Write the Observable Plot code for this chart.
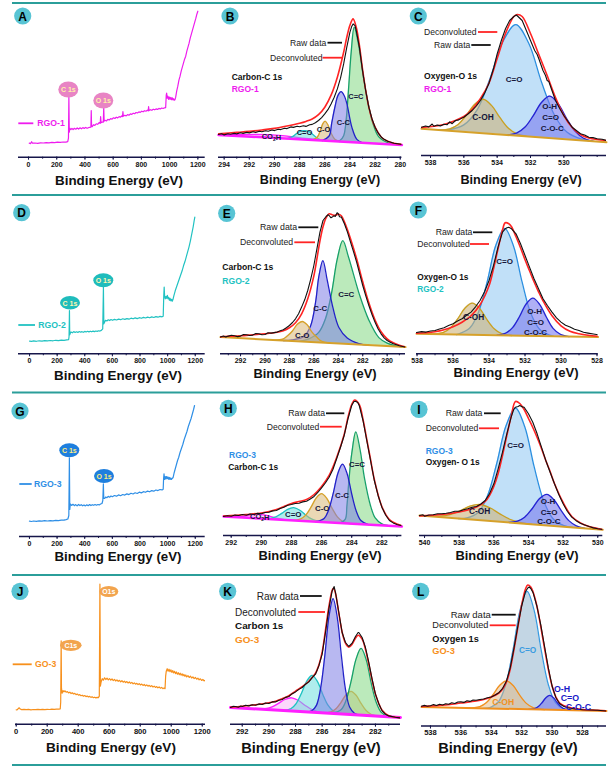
<!DOCTYPE html>
<html><head><meta charset="utf-8">
<script src="https://cdn.jsdelivr.net/npm/d3@7"></script>
<script src="https://cdn.jsdelivr.net/npm/@observablehq/plot@0.6"></script>
<style>
body{margin:0;background:#fff;}
#page{position:relative;width:614px;height:768px;overflow:hidden;background:#fff;font-family:Arial,"Liberation Sans",Helvetica,sans-serif;}
</style></head><body><div id="page"></div>
<script>
const FONT = "Arial, 'Liberation Sans', Helvetica, sans-serif";

// ---------- tick labels ----------
const SURVEY_TICKS = [0,200,400,600,800,1000,1200];
const SURVEY_MINOR = [0,100,200,300,400,500,600,700,800,900,1000,1100,1200];
const B_TICKS = [294,292,290,288,286,284,282,280];
const B_MINOR = [294,293,292,291,290,289,288,287,286,285,284,283,282,281,280];
const C_TICKS = [538,536,534,532,530];
const C_MINOR = [538,537,536,535,534,533,532,531,530,529,528];
const E_TICKS = [292,290,288,286,284,282,280];
const E_MINOR = [293,292,291,290,289,288,287,286,285,284,283,282,281,280,279];
const F_TICKS = [538,536,534,532,530,528];
const F_MINOR = [538,537,536,535,534,533,532,531,530,529,528];
const H_TICKS = [292,290,288,286,284,282];
const H_MINOR = [292,291,290,289,288,287,286,285,284,283,282,281];
const I_TICKS = [540,538,536,534,532,530];
const I_MINOR = [540,539,538,537,536,535,534,533,532,531,530];
const K_TICKS = [292,290,288,286,284,282];
const K_MINOR = [292,291,290,289,288,287,286,285,284,283,282,281];
const L_TICKS = [538,536,534,532,530,528];
const L_MINOR = [538,537,536,535,534,533,532,531,530,529,528,527];

// ---------- survey spectra [eV, intensity] ----------
const A_survey = [[5,14],[15,13.6],[22,15.5],[28,14],[45,14.2],[65,13.9],[85,14.4],[105,14.2],[125,14.6],[145,14.3],[165,14.8],[185,14.5],[205,15],[225,14.8],[245,15.2],[265,15.1],[278,15.6],[283,19],[286,60],[289,25],[292,29],[300,27.5],[308,28.8],[316,27.6],[325,28.9],[335,28],[345,29.2],[355,28.1],[365,29.4],[375,28.4],[385,29.6],[395,28.7],[405,29.8],[415,28.9],[425,29.5],[435,29.9],[442,30],[444.5,46.7],[447,31],[452,30.6],[460,32.5],[470,31.8],[480,33.4],[490,32.9],[500,34.6],[508,33.8],[511,40.5],[514,34.5],[522,35.2],[530,35],[533,50],[536,36],[542,36.9],[552,36.2],[562,37.8],[572,37.2],[582,38.6],[592,38],[602,39.4],[612,38.7],[622,40],[632,39.3],[642,40.6],[652,40],[660,41.2],[666,40.6],[669,45.5],[672,41],[682,41.9],[692,41.3],[702,42.6],[712,42],[722,43.3],[732,42.8],[742,44],[752,43.5],[762,44.7],[772,44.2],[782,45.3],[792,44.8],[802,46],[812,45.4],[822,46.5],[832,46],[842,47],[848,46.3],[851,50.5],[854,46.6],[864,47.5],[874,46.9],[884,48],[894,47.4],[904,48.3],[914,47.8],[924,48.8],[934,48.2],[944,49.2],[954,48.7],[964,49.4],[972,49.6],[976,62],[979,64],[983,59],[988,61],[993,57.8],[998,60.2],[1003,58],[1008,59.7],[1013,57.5],[1018,59.5],[1023,57.3],[1028,58.5],[1033,57],[1038,57.5],[1043,60],[1050,66],[1058,71],[1066,77],[1074,81],[1082,86],[1090,90],[1098,94],[1106,98],[1114,101],[1122,106],[1130,110],[1138,114],[1146,119],[1154,123],[1162,127],[1170,131],[1178,135],[1186,139],[1193,143],[1200,146]];
const D_survey = [[0,12.7],[15,12.4],[30,12.9],[50,12.5],[70,13],[90,12.7],[110,13.2],[130,12.9],[150,13.3],[170,13],[190,13.5],[210,13.2],[230,13.7],[250,13.5],[270,13.9],[283,14.2],[286,17],[289,43.3],[291,19],[295,20.5],[300,21.8],[310,21],[320,22.2],[330,21.3],[340,22],[350,21.4],[360,22.3],[370,21.6],[380,22.1],[390,21.5],[400,22.4],[410,21.8],[420,22.5],[430,21.9],[440,22.6],[450,22],[460,22.7],[470,22.2],[480,22.8],[490,22.4],[500,23],[510,22.7],[520,23.4],[530,25],[535,66.7],[538,30],[543,31.5],[550,33.5],[560,32.8],[570,34],[580,33.2],[590,34.2],[600,33.5],[615,34.4],[630,33.8],[645,34.7],[660,34.1],[675,35],[690,34.4],[705,35.2],[720,34.6],[735,35.6],[750,35],[765,35.9],[780,35.2],[795,36.1],[810,35.5],[825,36.4],[840,35.8],[855,36.7],[870,36],[885,36.9],[900,36.3],[915,37.2],[930,36.6],[945,37.4],[960,37],[968,37.5],[972,58],[975,66.7],[978,58],[983,55],[988,57.5],[993,55.5],[998,58.5],[1003,55],[1008,56.5],[1013,53.5],[1018,55.5],[1023,53],[1028,54.5],[1033,52.5],[1038,54],[1045,58],[1055,63],[1065,67],[1075,71],[1085,75],[1095,79],[1105,83],[1115,88],[1125,92],[1135,97],[1145,102],[1155,107],[1165,113],[1175,120],[1185,127],[1192,133],[1197,136.7]];
const G_survey = [[0,15.3],[15,15],[30,15.5],[50,15.2],[70,15.6],[90,15.3],[110,15.8],[130,15.5],[150,15.9],[170,15.7],[190,16.1],[210,15.9],[230,16.4],[250,16.3],[265,16.9],[278,17.5],[285,21],[289,78.7],[292,27],[296,32.5],[305,31],[315,32.2],[325,30.8],[335,31.9],[345,30.6],[355,32],[365,30.9],[375,31.8],[385,30.7],[395,31.6],[405,30.6],[415,31.7],[425,30.8],[435,31.9],[445,30.9],[455,31.8],[465,31.2],[475,32],[485,31.3],[495,32],[505,31.6],[515,32.5],[525,33],[531,36],[535,52.7],[538,38],[545,38.2],[552,39.5],[560,38.8],[570,40.1],[580,39.3],[590,40.5],[600,39.8],[615,41],[630,40.3],[645,41.6],[660,40.8],[675,42],[690,41.4],[705,42.6],[720,41.9],[735,43.2],[750,42.5],[765,43.7],[780,43],[795,44.3],[810,43.6],[825,44.8],[840,44.2],[855,45.4],[870,44.7],[885,45.9],[900,45.3],[915,46.5],[930,45.9],[945,47],[960,46.6],[968,47.3],[971,58],[974,62.7],[978,57],[983,60],[988,57.5],[993,60],[998,57.8],[1003,59.5],[1008,57.2],[1013,59],[1018,57],[1023,58.5],[1028,57],[1033,58],[1040,59],[1048,64],[1056,68],[1064,72],[1072,76],[1080,79],[1090,84],[1100,88],[1110,92],[1120,97],[1130,101],[1140,105],[1150,110],[1160,114],[1170,118],[1180,123],[1188,127],[1195,131]];
const J_survey = [[0,14.3],[8,14.6],[14,15.8],[20,16.3],[26,15.2],[35,14.6],[50,14.9],[65,14.5],[80,14.8],[95,14.4],[110,14.7],[125,14.5],[140,14.8],[155,14.6],[170,14.9],[185,14.6],[200,14.9],[215,14.7],[230,15],[245,14.8],[260,15.1],[275,15],[284,15.3],[287,22],[290,83.3],[292,36],[296,31],[302,33.6],[308,32.4],[315,33.4],[322,32],[330,32.6],[338,31.3],[346,32],[354,30.6],[362,31.4],[370,30.2],[378,30.8],[386,29.6],[394,30.2],[402,29],[410,29.6],[418,28.5],[426,29],[434,28],[442,28.7],[450,27.6],[458,28.2],[466,27.2],[474,27.8],[482,26.8],[490,27.4],[498,26.5],[506,27],[514,26.3],[522,26.8],[530,26.5],[536,28],[540,140],[543,38],[548,42.5],[555,45.5],[562,44],[570,46.3],[578,44.7],[586,46],[594,44.3],[602,45.6],[610,44],[618,45.2],[626,43.6],[634,44.7],[642,43.2],[650,44.3],[658,42.8],[666,43.9],[674,42.4],[682,43.5],[690,42],[698,43],[706,41.6],[714,42.6],[722,41.2],[730,42.2],[738,40.8],[746,41.8],[754,40.4],[762,41.3],[770,40],[778,40.9],[786,39.6],[794,40.5],[802,39.2],[810,40.1],[818,38.8],[826,39.7],[834,38.4],[842,39.3],[850,38],[858,38.9],[866,37.6],[874,38.5],[882,37.2],[890,38],[898,36.8],[906,37.6],[914,36.4],[922,37.2],[930,36],[938,36.8],[946,35.6],[954,36.2],[960,35.5],[964,48],[968,53],[974,55.5],[980,53],[986,55],[992,52.5],[998,54.3],[1004,51.8],[1010,53.6],[1016,51.2],[1022,52.8],[1028,50.6],[1034,52.2],[1040,50],[1046,51.5],[1052,49.5],[1058,51],[1064,49],[1070,50.4],[1076,48.4],[1082,49.8],[1088,47.9],[1094,49.2],[1100,47.3],[1108,48.6],[1116,46.7],[1124,48],[1132,46.2],[1140,47.3],[1148,45.6],[1156,46.7],[1164,45],[1172,46],[1180,44.4],[1188,45.4],[1196,43.8],[1204,44.7],[1212,43.3],[1220,44]];

// ---------- B : Carbon C1s RGO-1 ----------
const B_bg = [[294.45,22.3],[279.87,12.3]];
const B_CC = [[285.3,0],[284.8,1],[284.5,6],[284.3,22],[284.1,55],[283.9,90],[283.66,115],[283.32,98],[282.92,65],[282.52,38],[282.12,18],[281.72,7],[280.9,1],[280,0]];
const B_CCb = [[286.2,0],[285.65,5],[285.45,18],[285.18,35],[284.95,46],[284.7,50],[284.45,46],[284.24,38],[283.85,15],[283.45,3],[283.0,0]];
const B_CO = [[287.0,0],[286.6,3],[286.35,10],[286.15,17],[285.97,19.5],[285.75,16],[285.5,8],[285.2,2],[284.8,0]];
const B_CO2 = [[289.0,0],[288.6,2],[288.2,6],[287.9,8.5],[287.56,9],[287.2,8],[286.9,5],[286.5,1.5],[286.2,0]];
const B_COOH = [[294.4,0.5],[293,1.2],[291.5,2.5],[290.2,3],[289,2.5],[287.5,1.2],[286,0.3],[284.5,0]];
const B_raw = [[294.45,22.7],[294.2,23.5],[294,22.3],[293.7,23.4],[293.5,22.9],[293.2,23.8],[293,23.3],[292.7,24.4],[292.5,23.8],[292.2,24.8],[292,24.3],[291.7,25.4],[291.5,24.8],[291.2,26],[291,25.5],[290.7,26.5],[290.5,26],[290.2,27.2],[290,26.6],[289.7,27.9],[289.5,27.6],[289.2,29],[289,28.6],[288.7,30.3],[288.5,29.8],[288.2,31],[288,30.5],[287.7,31.4],[287.5,30.8],[287.2,32.5],[287,32.8],[286.75,34.5],[286.5,36.7],[286.25,39.5],[286,43.3],[285.75,47.5],[285.5,53.3],[285.25,60],[285,68.3],[284.75,79],[284.5,93.3],[284.25,110],[284,125],[283.85,131],[283.75,133.3],[283.6,131.5],[283.5,126.7],[283.25,110],[283,86.7],[282.75,66.7],[282.5,50],[282.25,38.5],[282,30],[281.75,24],[281.5,20],[281.25,17.6],[281,16],[280.5,14],[280.2,13.4],[279.87,12.7]];
const B_fit = [[294.45,23.5],[293,24.8],[292,25.8],[291,27.2],[290,28.8],[289,31.2],[288,34],[287.5,35.8],[287,38.2],[286.5,42.5],[286,50],[285.5,62],[285,80],[284.5,105],[284.25,120],[284,132],[283.75,138.3],[283.5,130],[283.25,112],[283,88],[282.75,67],[282.5,50],[282.25,38],[282,30],[281.5,20],[281,16],[280.5,14],[279.87,13]];

// ---------- C : Oxygen O1s RGO-1 ----------
const C_bg = [[538.54,26.7],[527.44,13.3]];
const C_CO = [[537.5,0],[536.9,1],[536.0,7],[535.2,23],[534.43,55],[533.66,93],[532.88,111],[532.1,93],[531.33,55],[530.55,23],[529.8,7],[528.9,1],[528.3,0]];
const C_COH = [[537.4,0],[536.84,2],[536.34,7],[535.84,17],[535.34,28.5],[534.84,34],[534.34,28.5],[533.84,17],[533.34,7],[532.84,2],[532.2,0]];
const C_OH = [[533.4,0],[532.84,2.5],[532.34,9],[531.84,21],[531.34,35],[530.84,42],[530.34,35],[529.84,21],[529.34,9],[528.84,2.5],[528.2,0]];
const C_raw = [[538.54,28.3],[538.3,29.5],[538.1,28.6],[537.9,31.5],[537.8,29.2],[537.6,30.4],[537.4,29.6],[537.2,31.2],[537,30.8],[536.85,33.6],[536.7,31.8],[536.5,35],[536.3,35.6],[536.1,37.6],[536,38.3],[535.75,41.5],[535.5,45],[535.25,49.5],[535,55],[534.75,62.5],[534.5,71.7],[534.2,88],[534,101.7],[533.75,115],[533.5,126.7],[533.25,135],[533,139],[532.85,140.5],[532.75,139],[532.5,135],[532.25,125],[532.1,119],[532,115],[531.75,105],[531.6,101],[531.5,96.7],[531.25,85],[531.1,80],[531,75],[530.9,74],[530.75,66.7],[530.5,55],[530.25,47],[530,40],[529.75,34],[529.5,28.3],[529.25,25],[529,21.7],[528.75,20.5],[528.5,18.3],[528.25,17.9],[528,16.7],[527.7,16.2],[527.44,15]];
const C_fit = [[538.54,28],[537.5,30],[537,32],[536.5,35],[536,39],[535.5,46],[535,57],[534.5,72],[534,97],[533.5,122],[533,139],[532.8,141],[532.5,139],[532,122],[531.5,101],[531,80],[530.5,58],[530,40],[529.5,28],[529,21],[528.5,17.5],[528,16],[527.44,15]];

// ---------- E : Carbon C1s RGO-2 ----------
const E_bg = [[293.64,16.7],[278.5,6.7]];
const E_CC = [[287.2,0],[286.4,3],[285.6,10],[285.05,24],[284.55,50],[284.09,84],[283.63,103],[283.14,86],[282.27,50],[281.5,25],[280.68,8],[280.0,3],[279.2,0.5],[278.6,0]];
const E_CCb = [[288.5,0],[287.77,1],[286.82,5],[286.27,16],[285.86,40],[285.59,66],[285.26,82],[284.91,63],[284.45,36],[283.95,16],[283.27,6],[282.32,1],[281.5,0]];
const E_CO = [[289.2,0],[288.55,1.3],[288.15,5],[287.75,10],[287.35,17],[286.95,20],[286.55,17],[286.15,10],[285.75,5],[285.35,1.3],[284.7,0]];
const E_raw = [[293.64,16.7],[293.4,17.8],[293.2,16.9],[293,17.7],[292.75,18.6],[292.5,18],[292.25,17.2],[292,17.7],[291.75,19.2],[291.5,19],[291.25,18.3],[291,18.7],[290.75,20.3],[290.5,20],[290.25,19.1],[290,19.3],[289.75,21],[289.5,20.7],[289.25,21.2],[289,21.7],[288.75,23],[288.5,24],[288.25,26],[288,28.3],[287.75,31.3],[287.5,35],[287.25,40],[287,46.7],[286.75,54],[286.5,63.3],[286.25,75],[286,88.3],[285.75,105],[285.5,121.7],[285.25,133.3],[285,137.3],[284.85,139],[284.75,138.3],[284.6,136],[284.5,136.7],[284.35,138],[284.25,137.3],[284.1,141],[284,140],[283.9,137],[283.75,136.7],[283.5,130],[283.25,121.7],[283,111.7],[282.75,102],[282.5,91.7],[282.25,80],[282,68.3],[281.75,58],[281.5,48.3],[281.25,39.5],[281,31.7],[280.75,25],[280.5,20],[280.25,16],[280,13.3],[279.75,11.5],[279.5,10],[279,8],[278.5,6.7]];
const E_fit = [[293.64,17],[293,17.5],[292,18],[291,19],[290,20],[289,21.5],[288.5,23],[288,26],[287.5,31],[287,40],[286.5,55],[286,78],[285.75,95],[285.5,113],[285.25,127],[285,136],[284.75,140],[284.5,139],[284.25,138.5],[284,139.5],[283.75,138],[283.5,132],[283.25,124],[283,115],[282.5,95],[282,72],[281.5,51],[281,34],[280.5,22],[280,15],[279.5,11],[279,8.5],[278.5,7]];

// ---------- F : Oxygen O1s RGO-2 ----------
const F_bg = [[538.03,20],[527.94,16.7]];
const F_CO = [[535.8,0],[535.63,1],[535.07,6.7],[534.59,22.5],[534.1,53.5],[533.62,90],[533.13,107],[532.65,90],[532.16,53.5],[531.68,22.5],[531.19,6.7],[530.63,1],[530.4,0]];
const F_COH = [[537.13,0],[536.53,2],[536.13,6.7],[535.73,15.9],[535.33,26.7],[534.93,31.7],[534.53,26.7],[534.13,15.9],[533.73,6.7],[533.33,2],[532.73,0]];
const F_OH = [[533.56,0],[533.06,2.4],[532.69,7.9],[532.31,18.9],[531.94,31.7],[531.56,37.7],[531.19,31.7],[530.81,18.9],[530.44,7.9],[530.06,2.4],[529.56,0]];
const F_raw = [[538.03,21.3],[537.75,22.2],[537.5,21.7],[537.25,22.8],[537,23.3],[536.75,24.8],[536.5,26],[536.25,28.2],[536,30],[535.75,32.8],[535.5,35],[535.25,38.5],[535,41.7],[534.75,47],[534.5,53.3],[534.25,62],[534,73.3],[533.75,88.3],[533.5,106.7],[533.25,121.7],[533.1,125],[533,126],[532.9,126.5],[532.75,125],[532.5,120],[532.25,110],[532,98.3],[531.75,86.7],[531.5,75],[531.25,65],[531,55],[530.75,48],[530.5,41.7],[530.25,36],[530,31.7],[529.75,28.5],[529.5,26.7],[529.25,24.5],[529,23.3],[528.75,21.5],[528.5,20.7],[528.2,19.8],[527.94,19]];
const F_fit = [[538.03,20.5],[537.5,21],[537,22],[536.5,24],[536,27],[535.5,31.5],[535,38],[534.5,49],[534,68],[533.75,85],[533.5,105],[533.25,124],[533.1,131],[532.9,130],[532.75,127],[532.5,117],[532.25,106],[532,94],[531.75,83],[531.5,72],[531.25,62],[531,53],[530.5,38],[530,28],[529.5,22.5],[529,20],[528.5,18.5],[527.94,17.5]];

// ---------- H : Carbon C1s RGO-3 ----------
const H_bg = [[292.51,19],[280.67,9]];
const H_CC = [[284.8,0],[284.43,4],[284.32,17],[284.17,46],[283.99,71],[283.73,92],[283.44,74],[283.15,46],[282.77,20],[282.44,7],[282.0,1.5],[281.34,0]];
const H_CCb = [[286.4,0],[285.83,3.7],[285.53,12.5],[285.22,29.7],[284.91,50],[284.61,59],[284.31,50],[284.0,29.7],[283.69,12.5],[283.39,3.7],[282.9,0]];
const H_CO = [[287.9,0],[287.4,1.8],[287.05,6],[286.7,14.2],[286.35,23.8],[286.0,28.3],[285.65,23.8],[285.3,14.2],[284.95,6],[284.6,1.8],[284.1,0]];
const H_CO2 = [[289.86,0],[289.41,0.8],[289.02,2.7],[288.64,6.4],[288.25,10.7],[287.86,12.7],[287.47,10.7],[287.08,6.4],[286.7,2.7],[286.31,0.8],[285.86,0]];
const H_COOH = [[292.5,0],[291.6,0.5],[291.1,1.6],[290.58,3.4],[290.08,4],[289.58,3.4],[289.08,1.6],[288.58,0.5],[287.8,0]];
const H_raw = [[292.51,19],[292.25,19.8],[292,19.3],[291.75,20.4],[291.5,20],[291.25,21],[291,20.3],[290.75,21.5],[290.5,21],[290.25,22.3],[290,21.7],[289.75,23],[289.5,23.3],[289.25,24.6],[289,25],[288.75,27],[288.5,28.3],[288.25,30.2],[288,31],[287.75,32],[287.5,32.3],[287.25,33.6],[287,34.3],[286.75,36.5],[286.5,39],[286.25,43],[286,47.7],[285.75,52.5],[285.5,58.3],[285.25,66],[285,76.7],[284.75,88],[284.5,100],[284.25,116.7],[284,130],[283.85,134],[283.75,134.3],[283.6,133],[283.5,130],[283.25,115],[283,95],[282.75,75],[282.5,55],[282.25,40],[282,28.3],[281.75,20.5],[281.5,15],[281.25,12.6],[281,11],[280.67,9.7]];
const H_fit = [[292.51,19.5],[291,21],[290,22.5],[289,26],[288.5,29],[288,32],[287.5,34],[287,36],[286.5,41],[286,49],[285.5,60],[285,78],[284.5,101],[284.25,118],[284,131],[283.8,135.5],[283.5,131],[283.25,116],[283,96],[282.75,76],[282.5,56],[282,29],[281.5,16],[281,11.5],[280.67,10]];

// ---------- I : Oxygen O1s RGO-3 ----------
const I_bg = [[540.29,20],[529.71,5.7]];
const I_CO = [[538.05,0],[537.55,1.2],[536.92,7.2],[536.38,24.2],[535.84,57.5],[535.29,96.7],[534.75,115],[534.21,96.7],[533.67,57.5],[533.12,24.2],[532.58,7.2],[531.95,1.2],[531.45,0]];
const I_COH = [[539.8,0],[539.1,1],[538.53,3.3],[537.95,7.85],[537.38,13.2],[536.8,15.7],[536.23,13.2],[535.65,7.85],[535.08,3.3],[534.5,1],[533.8,0]];
const I_OH = [[535.14,0],[534.64,1.9],[534.22,6.5],[533.79,15.5],[533.37,26],[532.94,31],[532.52,26],[532.09,15.5],[531.67,6.5],[531.24,1.9],[530.74,0]];
const I_raw = [[540.29,20],[540.1,20.8],[540,19.3],[539.75,20.5],[539.5,20.7],[539.25,21.8],[539,21.7],[538.75,22.2],[538.5,23],[538.25,24.2],[538,24.3],[537.75,25.8],[537.5,26.7],[537.25,28.3],[537,29],[536.75,31.5],[536.5,35],[536.25,41.7],[536,51.7],[535.75,66.7],[535.5,83.3],[535.25,101.7],[535,118.3],[534.85,126],[534.75,128.3],[534.6,129],[534.5,130],[534.35,128.6],[534.25,128.3],[534,121.7],[533.75,113.3],[533.5,101.7],[533.25,88.3],[533,75],[532.75,63.3],[532.5,51.7],[532.25,41],[532,31.7],[531.75,24],[531.5,18.3],[531.25,14.8],[531,12.3],[530.75,10.6],[530.5,9],[530.25,7.6],[530,6.7],[529.71,6]];
const I_fit = [[540.29,19.5],[539,21],[538,23.5],[537.5,25.5],[537,28.5],[536.5,34],[536.25,40],[536,49],[535.75,62],[535.5,80],[535.25,100],[535,119],[534.75,134],[534.5,132],[534.25,126],[534,117],[533.75,108],[533.5,98],[533.25,87],[533,75],[532.75,64],[532.5,52],[532,33],[531.5,19],[531,12.5],[530.5,9],[530,7],[529.71,6]];

// ---------- K : Carbon 1s GO-3 ----------
const K_bg = [[292.88,16.7],[280.12,6.7]];
const K_CCb = [[287.18,0],[286.78,1.5],[286.43,7.2],[286.12,24.2],[285.8,57.5],[285.49,96.7],[285.18,115],[284.87,96.7],[284.55,57.5],[284.24,24.2],[283.93,7.2],[283.58,1.5],[283.18,0]];
const K_CC = [[285.3,0],[284.58,4.2],[284.2,14],[283.83,33.3],[283.45,56],[283.08,66.7],[282.7,56],[282.33,33.3],[281.95,14],[281.58,4.2],[281.08,0.5],[280.6,0]];
const K_CO = [[288.95,0],[288.35,2.3],[287.95,7.8],[287.55,18.5],[287.15,31],[286.75,37],[286.35,31],[285.95,18.5],[285.55,7.8],[285.15,2.3],[284.55,0]];
const K_OR = [[286.0,0],[285.33,1.5],[284.96,4.9],[284.58,11.7],[284.2,19.6],[283.83,23.3],[283.45,19.6],[283.08,11.7],[282.7,4.9],[282.33,1.5],[281.7,0]];
const K_MG = [[291.0,0],[290.3,0.8],[289.8,2.8],[289.3,6.7],[288.8,11.2],[288.3,13.3],[287.8,11.2],[287.3,6.7],[286.8,2.8],[286.3,0.8],[285.6,0]];
const K_raw = [[292.88,16.7],[292.7,17.8],[292.5,17.7],[292.3,16.9],[292.1,18.2],[292,17.7],[291.75,18.9],[291.5,18.3],[291.25,19.4],[291,19],[290.75,20.3],[290.5,19.7],[290.25,21.2],[290,20.7],[289.75,22.3],[289.5,22.3],[289.25,23.9],[289,24.7],[288.75,26.8],[288.5,27.7],[288.25,30.5],[288,32.3],[287.75,34.8],[287.5,36.7],[287.25,40],[287,42.3],[286.75,46.5],[286.5,50],[286.25,58.3],[286,70],[285.75,91.7],[285.5,115],[285.25,133.3],[285.1,137.7],[285,131.7],[284.75,111.7],[284.5,91.7],[284.25,81.7],[284,77.7],[283.75,81],[283.5,87.7],[283.3,91.7],[283.25,91.7],[283,86.7],[282.75,76.7],[282.5,61.7],[282.25,45],[282,30],[281.75,20.5],[281.5,13.3],[281.25,10],[281,8.3],[280.5,7],[280.12,6.3]];
const K_fit = [[292.88,17],[292,18],[291,19.5],[290,21.5],[289.5,23],[289,25.5],[288.5,28.5],[288,33],[287.5,37.5],[287,43],[286.5,51],[286.25,59],[286,72],[285.75,94],[285.5,117],[285.25,134],[285.15,136],[285,131],[284.75,111],[284.5,92],[284.25,81],[284,77],[283.75,80],[283.5,86],[283.3,89],[283,85],[282.75,75],[282.5,60],[282.25,44],[282,30],[281.5,14],[281,8.5],[280.5,7],[280.12,6.5]];

// ---------- L : Oxygen 1s GO-3 ----------
const L_bg = [[538.59,19],[526.42,15]];
const L_CO = [[534.54,0],[534.04,1.2],[533.5,7.4],[533.04,24.8],[532.57,59],[532.1,99],[531.64,118],[531.18,99],[530.71,59],[530.24,24.8],[529.78,7.4],[529.24,1.2],[528.74,0]];
const L_COH = [[535.6,0],[534.75,1.75],[534.31,5.9],[533.88,14],[533.44,23.5],[533.0,28],[532.56,23.5],[532.13,14],[531.69,5.9],[531.25,1.75],[530.5,0]];
const L_OH = [[531.55,0],[531.15,0.9],[530.9,3],[530.65,7.15],[530.4,12],[530.15,14.3],[529.9,12],[529.65,7.15],[529.4,3],[529.15,0.9],[528.75,0]];
const L_raw = [[538.59,19.7],[538.4,20.6],[538.2,19.8],[538,20.3],[537.8,21.4],[537.6,20.5],[537.4,21.8],[537.2,21],[537,22.3],[536.8,21.7],[536.6,23.2],[536.4,22.5],[536.2,24],[536,24.3],[535.8,23.6],[535.6,25.2],[535.4,24.6],[535.2,26],[535,25.7],[534.75,26.5],[534.5,27],[534.25,28.3],[534,29],[533.75,31],[533.5,33.3],[533.25,37.7],[533,45],[532.75,58.3],[532.5,78.3],[532.25,100],[532,120],[531.75,134.3],[531.6,138],[531.5,139],[531.4,137.5],[531.25,133.3],[531,120],[530.75,101.7],[530.5,80],[530.25,58.3],[530,40],[529.75,28.3],[529.5,22.3],[529.25,19.8],[529,18.3],[528.5,17],[528,16.3],[527.5,16],[527,15.7],[526.42,15]];
const L_fit = [[538.59,19.5],[537,21],[536,23],[535,25],[534.5,26.5],[534,29],[533.5,33],[533.25,37],[533,44],[532.75,57],[532.5,77],[532.25,99],[532,121],[531.75,137],[531.6,141],[531.4,139],[531.25,134],[531,120],[530.75,100],[530.5,78],[530.25,57],[530,40],[529.75,29],[529.5,23],[529,19],[528.5,17.5],[528,16.5],[527,15.7],[526.42,15.2]];

// ---------- styles ----------
const GREEN = {stroke:"#17a06a", fill:"#8edc8e", op:0.6};
const BLUE  = {stroke:"#2222c8", fill:"#7e7ee6", op:0.55};
const TAN   = {stroke:"#d6a12a", fill:"#d9b878", op:0.55};
const CYAN  = {stroke:"#1fc2c2", fill:"#5fdcdc", op:0.5};
const MAG   = {stroke:"#ff1fff", fill:"#f59af5", op:0.4};
const OCO   = {stroke:"#2b8fe0", fill:"#9fd0f4", op:0.65};
const OCOH  = {stroke:"#c9a021", fill:"#cdb27a", op:0.6};
const OOH   = {stroke:"#2424d2", fill:"#7a7aee", op:0.6};
const LCO   = {stroke:"#3a9be0", fill:"#a9c4d8", op:0.7};
const LCOH  = {stroke:"#f0901e", fill:"#e3b882", op:0.5};
const ORG   = {stroke:"#f08a1e", fill:"#f0b070", op:0.5};

const page = document.getElementById("page");

function bgAt(bg, x) {
  const [[xa, ya], [xb, yb]] = bg;
  return ya + (yb - ya) * (x - xa) / (xb - xa);
}

function panel(cfg) {
  const H = cfg.axisY - cfg.top;
  const marks = [];
  for (const c of (cfg.comps || [])) {
    const d = c.data.map(([x, h]) => ({x, y1: bgAt(cfg.bg, x), y2: bgAt(cfg.bg, x) + h}));
    marks.push(Plot.areaY(d, {x: "x", y1: "y1", y2: "y2", fill: c.style.fill, fillOpacity: c.style.op, curve: "catmull-rom", clip: true}));
    marks.push(Plot.line(d, {x: "x", y: "y2", stroke: c.style.stroke, strokeWidth: 1.3, curve: "catmull-rom", clip: true}));
  }
  if (cfg.bg) marks.push(Plot.line(cfg.bg, {x: d => d[0], y: d => d[1], stroke: cfg.bgColor, strokeWidth: cfg.bgWidth || 2}));
  if (cfg.fit) marks.push(Plot.line(cfg.fit, {x: d => d[0], y: d => d[1], stroke: "#ff2424", strokeWidth: 1.6, curve: "catmull-rom", clip: true}));
  if (cfg.raw) marks.push(Plot.line(cfg.raw, {x: d => d[0], y: d => d[1], stroke: "#111", strokeWidth: 1.1, clip: true}));
  if (cfg.survey) marks.push(Plot.line(cfg.survey, {x: d => d[0], y: d => d[1], stroke: cfg.color, strokeWidth: 1.2, clip: true}));
  marks.push(Plot.ruleY([0], {stroke: "#16164a", strokeWidth: 1.6}));
  marks.push(Plot.axisX({ticks: cfg.minor, tickSize: 2, tickFormat: () => "", label: null, stroke: "#16164a"}));
  marks.push(Plot.axisX({ticks: cfg.major, tickSize: 3, tickPadding: cfg.tp ?? 1.5, tickFormat: d => String(d), label: null,
    stroke: "#16164a", fill: "#111", fontSize: cfg.tf, fontWeight: "bold"}));
  const m = 14;
  const svg = Plot.plot({
    width: cfg.right - cfg.left + 2 * m,
    height: H + 16,
    marginLeft: m, marginRight: m, marginTop: 0, marginBottom: 16,
    x: {domain: cfg.domain},
    y: {domain: [0, H], axis: null},
    style: {background: "transparent", overflow: "visible", fontFamily: FONT},
    marks
  });
  svg.style.position = "absolute";
  svg.style.left = (cfg.left - m) + "px";
  svg.style.top = cfg.top + "px";
  page.appendChild(svg);
}

// survey panels
panel({left:18.3, right:205, top:5, axisY:156.7, domain:[-71,1252], survey:A_survey, color:"#ee1cee", major:SURVEY_TICKS, minor:SURVEY_MINOR, tf:7});
panel({left:18.3, right:205, top:198, axisY:353.3, domain:[-80,1272], survey:D_survey, color:"#22c2c2", major:SURVEY_TICKS, minor:SURVEY_MINOR, tf:7});
panel({left:19.3, right:205, top:395, axisY:536, domain:[-72,1272], survey:G_survey, color:"#2f8fe6", major:SURVEY_TICKS, minor:SURVEY_MINOR, tf:7});
panel({left:15, right:205, top:578, axisY:723.7, domain:[-4.5,1221], survey:J_survey, color:"#f7901c", major:SURVEY_TICKS, minor:SURVEY_MINOR, tf:7.6, tp:1});

// carbon panels
panel({left:218.3, right:401.7, top:5, axisY:156.7, domain:[294.45,279.87], bg:B_bg, bgColor:"#ff1fff", bgWidth:2.5,
  comps:[{data:B_COOH,style:MAG},{data:B_CO2,style:CYAN},{data:B_CO,style:TAN},{data:B_CC,style:GREEN},{data:B_CCb,style:BLUE}],
  raw:B_raw, fit:B_fit, major:B_TICKS, minor:B_MINOR, tf:7});
panel({left:220, right:405, top:198, axisY:353.3, domain:[293.64,278.5], bg:E_bg, bgColor:"#d6a12a", bgWidth:2,
  comps:[{data:E_CC,style:GREEN},{data:E_CCb,style:BLUE},{data:E_CO,style:TAN}],
  raw:E_raw, fit:E_fit, major:E_TICKS, minor:E_MINOR, tf:7});
panel({left:223.3, right:401.7, top:395, axisY:535, domain:[292.51,280.67], bg:H_bg, bgColor:"#ff1fff", bgWidth:2.5,
  comps:[{data:H_COOH,style:MAG},{data:H_CO2,style:CYAN},{data:H_CO,style:TAN},{data:H_CC,style:GREEN},{data:H_CCb,style:BLUE}],
  raw:H_raw, fit:H_fit, major:H_TICKS, minor:H_MINOR, tf:7});
panel({left:230, right:400, top:578, axisY:723.7, domain:[292.88,280.12], bg:K_bg, bgColor:"#ff1fff", bgWidth:3,
  comps:[{data:K_MG,style:MAG},{data:K_CO,style:CYAN},{data:K_OR,style:ORG},{data:K_CC,style:GREEN},{data:K_CCb,style:BLUE}],
  raw:K_raw, fit:K_fit, major:K_TICKS, minor:K_MINOR, tf:7.6, tp:1});

// oxygen panels
panel({left:420.7, right:605.7, top:5, axisY:155, domain:[538.54,527.44], bg:C_bg, bgColor:"#d6a12a", bgWidth:2,
  comps:[{data:C_CO,style:OCO},{data:C_COH,style:OCOH},{data:C_OH,style:OOH}],
  raw:C_raw, fit:C_fit, major:C_TICKS, minor:C_MINOR, tf:7});
panel({left:415.7, right:597.3, top:198, axisY:353.3, domain:[538.03,527.94], bg:F_bg, bgColor:"#d6a12a", bgWidth:2,
  comps:[{data:F_CO,style:OCO},{data:F_COH,style:OCOH},{data:F_OH,style:OOH}],
  raw:F_raw, fit:F_fit, major:F_TICKS, minor:F_MINOR, tf:7});
panel({left:419, right:602.3, top:395, axisY:535, domain:[540.29,529.71], bg:I_bg, bgColor:"#d6a12a", bgWidth:2,
  comps:[{data:I_CO,style:OCO},{data:I_COH,style:OCOH},{data:I_OH,style:OOH}],
  raw:I_raw, fit:I_fit, major:I_TICKS, minor:I_MINOR, tf:7});
panel({left:420.7, right:605.7, top:578, axisY:725.5, domain:[538.59,526.42], bg:L_bg, bgColor:"#f0901e", bgWidth:2,
  comps:[{data:L_CO,style:LCO},{data:L_COH,style:LCOH},{data:L_OH,style:OOH}],
  raw:L_raw, fit:L_fit, major:L_TICKS, minor:L_MINOR, tf:7.6, tp:1});

// ---------- overlay: separators, letters, titles, legends, labels ----------
const ov = d3.select("#page").append("svg")
  .attr("width", 614).attr("height", 768)
  .style("position", "absolute").style("left", "0px").style("top", "0px")
  .style("font-family", FONT);

for (const y of [3, 195, 392.5, 575, 765]) {
  ov.append("line").attr("x1", 12).attr("x2", 606).attr("y1", y).attr("y2", y)
    .attr("stroke", "#2b9e9a").attr("stroke-width", 2);
}

function txt(x, y, s, size, weight, color, anchor) {
  return ov.append("text").attr("x", x).attr("y", y).attr("dominant-baseline", "central")
    .attr("text-anchor", anchor || "start").attr("font-size", size).attr("font-weight", weight || "normal")
    .attr("fill", color || "#111").text(s);
}
function seg(x1, x2, y, color) {
  ov.append("line").attr("x1", x1).attr("x2", x2).attr("y1", y).attr("y2", y)
    .attr("stroke", color).attr("stroke-width", 1.8);
}

// panel letters
const letters = [["A",22.7,16],["B",230,16],["C",418.3,16],["D",21.7,212.7],["E",226.7,213.3],["F",418.3,210],
  ["G",20,411],["H",228.3,408.3],["I",419,409.3],["J",20,591.3],["K",227.7,591.3],["L",420.7,591.3]];
for (const [l, x, y] of letters) {
  ov.append("circle").attr("cx", x).attr("cy", y).attr("r", 8.6).attr("fill", "#58c4d4");
  txt(x, y + 0.5, l, 12, "bold", "#000", "middle");
}

// axis titles
const titles = [[119,180,13.4],[320,180,12.6],[521,180,12.7],[118,375,13.4],[315,373,12.9],[516,372,13.1],
  [118,556.7,13.3],[320,555,12.9],[517,555,12.9],[111,747,13.6],[311,747.5,14.6],[508,747.5,14.6]];
for (const [x, y, s] of titles) txt(x, y, "Binding Energy (eV)", s, "bold", "#111", "middle");

// survey bubbles
function bubble(cx, cy, rx, ry, fill, s, tc) {
  ov.append("ellipse").attr("cx", cx).attr("cy", cy).attr("rx", rx).attr("ry", ry).attr("fill", fill);
  txt(cx, cy + 0.3, s, 7, "bold", tc, "middle");
}
bubble(68.3, 89.5, 10, 8, "#e884c4", "C 1s", "#fff2a8");
bubble(103.3, 100.5, 10, 8, "#e884c4", "O 1s", "#fff2a8");
bubble(70, 302.7, 10, 6.8, "#1fbcbc", "C 1s", "#fff6b0");
bubble(103.3, 280.3, 10, 7, "#1fbcbc", "O 1s", "#fff6b0");
bubble(69.3, 450.3, 10, 7, "#1e7fde", "C 1s", "#ffee80");
bubble(104, 476, 10, 7, "#1e7fde", "O 1s", "#ffee80");
bubble(70.8, 645.3, 10.8, 5.6, "#f2a44e", "C1s", "#ffffff");
bubble(108.8, 591.5, 9.5, 5.6, "#f2a44e", "O1s", "#ffffff");

// survey legends
seg(18.3, 33.3, 123.3, "#ee1cee"); txt(37.3, 123.3, "RGO-1", 8.7, "bold", "#ee1cee");
seg(18.3, 35, 325, "#22c2c2"); txt(38.3, 325, "RGO-2", 8.7, "bold", "#22c2c2");
seg(19.3, 31.7, 484, "#2f8fe6"); txt(34, 484, "RGO-3", 8.7, "bold", "#2f8fe6");
seg(12.7, 31.7, 664.3, "#f7901c"); txt(35, 664.3, "GO-3", 8.7, "bold", "#f7901c");

// deconvolution legends
const RED = "#ff2424", BLK = "#111";
// B
txt(290, 42.7, "Raw data", 8.6, "normal", "#222"); seg(327.5, 342, 42.7, BLK);
txt(270, 57.7, "Deconvoluted", 8.6, "normal", "#222"); seg(322.5, 342, 57.7, RED);
txt(231.7, 77.3, "Carbon-C 1s", 8.5, "bold", "#111");
txt(231.7, 89.3, "RGO-1", 8.5, "bold", "#ee1cee");
// C
txt(424, 32.3, "Deconvoluted", 8.6, "normal", "#222"); seg(478, 497.3, 32, RED);
txt(434, 45, "Raw data", 8.6, "normal", "#222"); seg(471.3, 490.7, 45, BLK);
txt(424, 76, "Oxygen-O 1s", 8.6, "bold", "#111");
txt(424, 89.3, "RGO-1", 8.6, "bold", "#ee1cee");
// E
txt(260, 227.3, "Raw data", 8.8, "normal", "#222"); seg(298.3, 318.3, 227.3, BLK);
txt(240, 242.3, "Deconvoluted", 8.7, "normal", "#222"); seg(294.3, 315, 242.3, RED);
txt(222.3, 266.7, "Carbon-C 1s", 8.6, "bold", "#111");
txt(222.3, 280.7, "RGO-2", 8.6, "bold", "#22c2c2");
// F
txt(435.7, 232.3, "Raw data", 8.7, "normal", "#222"); seg(473, 492.3, 232.3, BLK);
txt(417.3, 244, "Deconvoluted", 8.6, "normal", "#222"); seg(470, 489, 244, RED);
txt(417.3, 276.7, "Oxygen-O 1s", 8.3, "bold", "#111");
txt(417.3, 289, "RGO-2", 8.3, "bold", "#22c2c2");
// H
txt(288.3, 413.3, "Raw data", 8.7, "normal", "#222"); seg(326, 344.3, 413.3, BLK);
txt(266.7, 426.7, "Deconvoluted", 8.6, "normal", "#222"); seg(320, 341.7, 426.7, RED);
txt(229, 455, "RGO-3", 8.5, "bold", "#2f8fe6");
txt(228.3, 467.3, "Carbon-C 1s", 8.4, "bold", "#111");
// I
txt(445.7, 413.3, "Raw data", 8.7, "normal", "#222"); seg(484, 500.7, 413.3, BLK);
txt(425.7, 428.3, "Deconvoluted", 8.6, "normal", "#222"); seg(479, 499, 428.3, RED);
txt(425.7, 450.7, "RGO-3", 8.5, "bold", "#2f8fe6");
txt(425.7, 462.3, "Oxygen- O 1s", 8.4, "bold", "#111");
// K
txt(256.7, 596, "Raw data", 10, "normal", "#222"); seg(300, 321.7, 596, BLK);
txt(235, 612, "Deconvoluted", 10, "normal", "#222"); seg(298.3, 325, 612, RED);
txt(235, 625.3, "Carbon 1s", 9.9, "bold", "#111");
txt(235, 639.3, "GO-3", 9.9, "bold", "#f7901c");
// L
txt(450.7, 614.7, "Raw data", 9.5, "normal", "#222"); seg(491.7, 515.7, 614.7, BLK);
txt(432.3, 625.3, "Deconvoluted", 9.2, "normal", "#222"); seg(489.7, 515.7, 625.3, RED);
txt(432.3, 638.7, "Oxygen 1s", 9.2, "bold", "#111");
txt(432.3, 651, "GO-3", 9.2, "bold", "#f7901c");

// component labels
const LC = "#15153a";
txt(348.3, 96.7, "C=C", 7.5, "bold", LC);
txt(336.7, 122.3, "C-C", 7.5, "bold", LC);
txt(316.7, 129.3, "C-O", 7.5, "bold", LC);
txt(296.7, 132.7, "C=O", 7.5, "bold", LC);
{ const t = txt(261.7, 136.7, "CO", 7.5, "bold", LC);
  t.append("tspan").attr("font-size", 5).attr("dy", 2).text("2");
  t.append("tspan").attr("dy", -2).text("H"); }
txt(505.7, 79, "C=O", 8, "bold", LC);
txt(472.3, 116.7, "C-OH", 8.4, "bold", LC);
txt(542.3, 106.7, "O-H", 8, "bold", LC);
txt(542.3, 117.7, "C=O", 8, "bold", LC);
txt(540.7, 128.3, "C-O-C", 8, "bold", LC);
txt(338.3, 294, "C=C", 7.9, "bold", LC);
txt(313.3, 308.3, "C-C", 7.9, "bold", LC);
txt(295, 335, "C-O", 7.9, "bold", LC);
txt(496.3, 261, "C=O", 8, "bold", LC);
txt(463, 316.7, "C-OH", 8.3, "bold", LC);
txt(527.3, 311, "O-H", 8, "bold", LC);
txt(527.3, 322, "C=O", 8, "bold", LC);
txt(524, 332.3, "C-O-C", 8, "bold", LC);
txt(349, 464, "C=C", 7.9, "bold", LC);
txt(335, 495.7, "C-C", 7.9, "bold", LC);
txt(315, 508.3, "C-O", 7.9, "bold", LC);
txt(285, 514, "C=O", 7.9, "bold", LC);
{ const t = txt(250, 516.7, "CO", 7.5, "bold", LC);
  t.append("tspan").attr("font-size", 5).attr("dy", 2).text("2");
  t.append("tspan").attr("dy", -2).text("H"); }
txt(507.3, 445, "C=O", 8, "bold", LC);
txt(469, 511, "C-OH", 8.3, "bold", LC);
txt(540.7, 501.7, "O-H", 8, "bold", LC);
txt(540.7, 512, "C=O", 8, "bold", LC);
txt(537.3, 521.7, "C-O-C", 8, "bold", LC);
txt(519, 650.3, "C=O", 8.3, "bold", "#3a9be0");
txt(492.3, 702, "C-OH", 8.6, "bold", "#f0901e");
txt(554, 688.7, "O-H", 8.8, "bold", "#1818c8");
txt(560.7, 698, "C=O", 8.8, "bold", "#1818c8");
txt(565.7, 707, "C-O-C", 8.8, "bold", "#1818c8");
</script></body></html>
